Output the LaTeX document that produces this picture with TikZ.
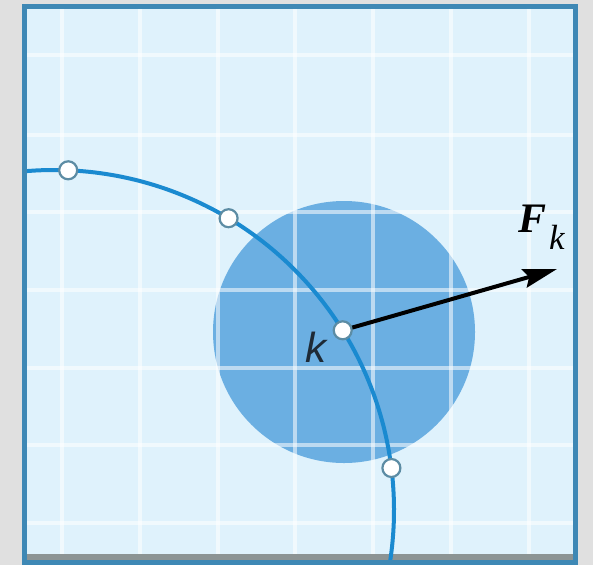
\documentclass[tikz,border=0pt]{standalone}
\usepackage{fontspec}
\newfontfamily\tnr{Liberation Serif}
\newfontfamily\ars{Liberation Sans}
\usetikzlibrary{arrows.meta}
\definecolor{bggray}{HTML}{E0E0E0}
\definecolor{frameblue}{HTML}{3E88B5}
\definecolor{paper}{HTML}{DFF2FC}
\definecolor{diskblue}{HTML}{6BAFE2}
\definecolor{curveblue}{HTML}{1A8AD0}
\definecolor{ringgray}{HTML}{5C8CA4}
\definecolor{barGray}{HTML}{8C9494}
\definecolor{inkdark}{HTML}{1E2A36}
\tikzset{
  gridline/.style={white,line width=3.5pt,opacity=0.55},
  ptdot/.style={circle,fill=white,draw=ringgray,line width=2.2pt,minimum size=18pt,inner sep=0pt},
  curve/.style={curveblue,line width=4pt},
  force/.style={black,line width=4pt,-{Stealth[length=34pt,width=19pt,inset=5pt]}}
}
\begin{document}
\begin{tikzpicture}[x=1pt,y=1pt]
\useasboundingbox (0,0) rectangle (593,-565);
\fill[bggray] (0,0) rectangle (593,-565);
% paper
\fill[paper] (27,-9) rectangle (573,-560);
\begin{scope}
\clip (27,-9) rectangle (573,-560);
% disk
\fill[diskblue] (344,-332) circle (131);
% grid
\foreach \gx in {62,140,218,295,373,451,529} \draw[gridline] (\gx,-9) -- (\gx,-560);
\foreach \gy in {55,135,212,290,368,445,523} \draw[gridline] (27,-\gy) -- (573,-\gy);
% bottom bar
\fill[barGray] (27,-554) rectangle (573,-560);
% curve
\coordinate (c0) at (54,-510);
\draw[curve] (c0) ++(100:340) arc[start angle=100,end angle=-12,radius=340];
\end{scope}
% frame
\draw[frameblue,line width=5.5pt] (24.5,-6.5) rectangle (575.5,-562.5);
% points
\node[ptdot] (p1) at (68.2,-170.3) {};
\node[ptdot] (p2) at (228.6,-218.2) {};
\coordinate (tip) at (557,-269);
\draw[force] (342.7,-330.3) -- (tip);
\node[ptdot] (pk) at (342.7,-330.3) {};
\node[ptdot] (p4) at (391.4,-468) {};
% labels
\node[anchor=base,inner sep=0pt,text=inkdark] (klab) at (316,-362) {\ars\itshape\fontsize{42}{42}\selectfont k};
\node[anchor=base west,inner sep=0pt] (flab) at (518,-232) {\tnr\bfseries\itshape\fontsize{42}{42}\selectfont F};
\node[anchor=base west,inner sep=0pt] (fsub) at (549,-249) {\tnr\itshape\fontsize{35}{35}\selectfont k};
\end{tikzpicture}
\end{document}
